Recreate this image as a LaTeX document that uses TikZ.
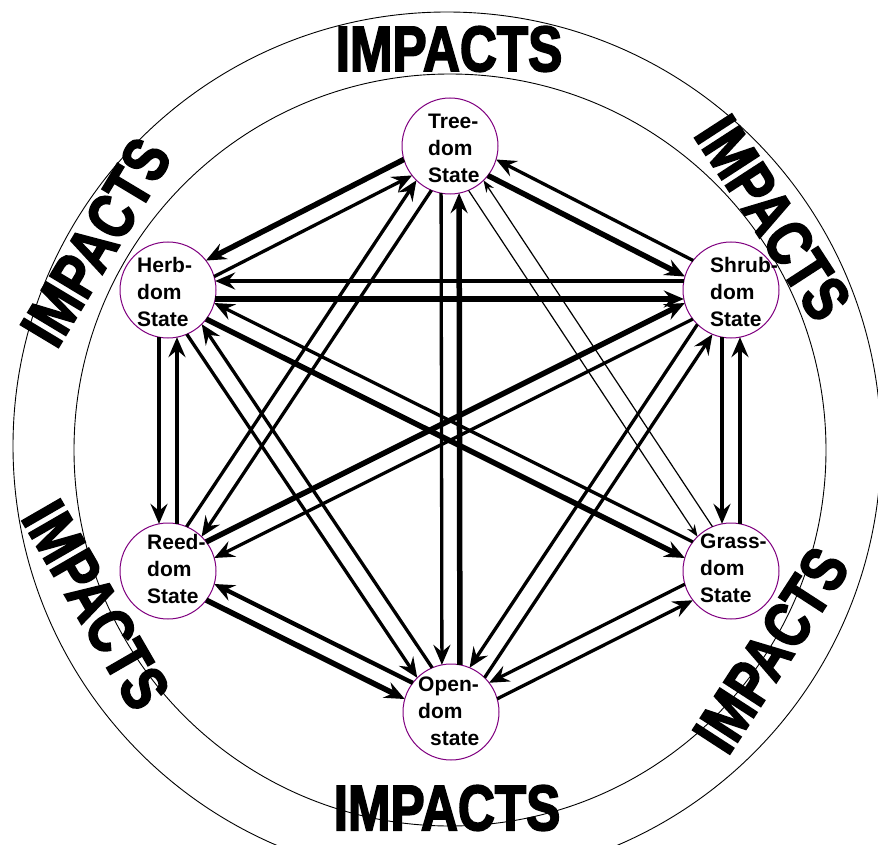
\documentclass[tikz,border=0pt]{standalone}
\usepackage{fontspec}
\setmainfont{Liberation Sans}
\newfontfamily\impfont[FakeBold=3]{Liberation Sans}
\usetikzlibrary{arrows.meta,calc}
\definecolor{nodepurple}{RGB}{128,0,128}
\tikzset{
 state/.style={circle,draw=nodepurple,line width=1pt,minimum size=96pt,inner sep=0pt},
 lbl/.style={anchor=north west,inner sep=0pt,align=left,font=\bfseries\fontsize{21}{27}\selectfont},
 arr/.style={line width=3.3pt,-{Stealth[length=20pt,width=17pt,inset=7pt]}},
 thk/.style={line width=5.5pt},
 mid/.style={line width=4.3pt},
 thn/.style={line width=1.2pt,-{Stealth[length=12pt,width=9pt,inset=4pt]}},
 ring/.style={draw,line width=0.9pt},
 imp/.style={inner sep=0pt,font=\impfont\bfseries\fontsize{64}{64}\selectfont},
}
\newcommand\rlnk[3][]{\draw[arr,#1] ($(#2)!48pt!-10.8:(#3)$) -- ($(#3)!48pt!10.8:(#2)$);}
\newcommand\llnk[3][]{\draw[arr,#1] ($(#2)!48pt!10.8:(#3)$) -- ($(#3)!48pt!-10.8:(#2)$);}
\begin{document}
\begin{tikzpicture}[x=1pt,y=-1pt]
\useasboundingbox (0,0) rectangle (878,845);
\clip (0,0) rectangle (878,845);
\fill[white] (0,0) rectangle (878,845);
% rings
\draw[ring] (447,446) circle[radius=434pt];
\draw[ring] (450,450) circle[radius=376pt];
% states
\node[state] (tree)  at (450,146) {};
\node[state] (herb)  at (168,290) {};
\node[state] (shrub) at (731,290) {};
\node[state] (reed)  at (168,571) {};
\node[state] (grass) at (731,571) {};
\node[state] (open)  at (451,712) {};
% labels
\node[lbl] (treeL)  at ($(tree)+(-22,-32)$)  {Tree-\\dom\\State};
\node[lbl] (herbL)  at ($(herb)+(-31,-33)$)  {Herb-\\dom\\State};
\node[lbl] (shrubL) at ($(shrub)+(-21,-33)$) {Shrub-\\dom\\State};
\node[lbl] (reedL)  at ($(reed)+(-21,-37)$)  {Reed-\\dom\\State};
\node[lbl] (grassL) at ($(grass)+(-31,-37)$) {Grass-\\dom\\State};
\node[lbl] (openL)  at ($(open)+(-33,-35)$)  {Open-\\dom\\\hspace*{12pt}state};
% connectors
\rlnk[thk]{tree}{herb}
\rlnk{herb}{tree}
\rlnk{shrub}{tree}
\rlnk[thk]{tree}{shrub}
\rlnk{shrub}{herb}
\rlnk[thk]{herb}{shrub}
\rlnk{herb}{reed}
\rlnk[mid]{reed}{herb}
\rlnk{shrub}{grass}
\rlnk[mid]{grass}{shrub}
\rlnk[mid]{open}{reed}
\rlnk[thk]{reed}{open}
\rlnk{grass}{open}
\rlnk{open}{grass}
\rlnk{tree}{open}
\rlnk[thk]{open}{tree}
\rlnk{grass}{herb}
\rlnk[thk]{herb}{grass}
\llnk[thk]{reed}{shrub}
\llnk{shrub}{reed}
\llnk{reed}{tree}
\llnk{tree}{reed}
\rlnk[thn]{tree}{grass}
\rlnk[thn]{grass}{tree}
\rlnk{shrub}{open}
\rlnk{open}{shrub}
\rlnk{herb}{open}
\rlnk{open}{herb}
% impacts
\node[imp] (impT)  at (449,49)  {\scalebox{0.8}[1]{IMPACTS}};
\node[imp,rotate=-57] (impUR) at (773,218) {\scalebox{0.8}[1]{IMPACTS}};
\node[imp,rotate=57]  (impLR) at (771,650) {\scalebox{0.8}[1]{IMPACTS}};
\node[imp] (impB)  at (447,808) {\scalebox{0.8}[1]{IMPACTS}};
\node[imp,rotate=-60] (impLL) at (96,605) {\scalebox{0.8}[1]{IMPACTS}};
\node[imp,rotate=59]  (impUL) at (96,242) {\scalebox{0.8}[1]{IMPACTS}};
\end{tikzpicture}
\end{document}
